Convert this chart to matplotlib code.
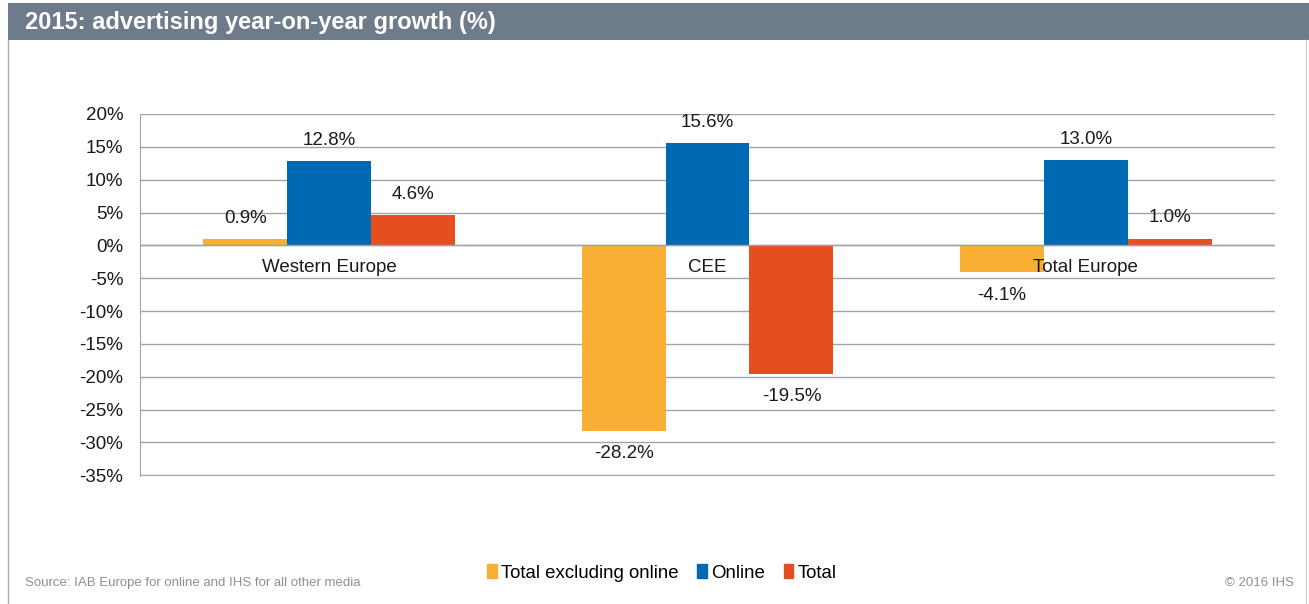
import matplotlib.pyplot as plt
from matplotlib.patches import Rectangle, Patch
import numpy as np

# data
regions = ['Western Europe', 'CEE', 'Total Europe']
excl_online = [0.9, -28.2, -4.1]
online = [12.8, 15.6, 13.0]
total = [4.6, -19.5, 1.0]
series_names = ['Total excluding online', 'Online', 'Total']
colors = ['#F9AE34', '#0069B4', '#E54E1F']
yticks = [20, 15, 10, 5, 0, -5, -10, -15, -20, -25, -30, -35]

W, H = 1309, 604
fig = plt.figure(figsize=(W / 100, H / 100), dpi=100)
fig.patch.set_facecolor('white')

# header band + frame
fig.add_artist(Rectangle((8 / W, 1 - 40 / H), 1 - 8 / W, 37 / H, transform=fig.transFigure,
                         facecolor='#6E7B8B', edgecolor='none'))
fig.add_artist(plt.Line2D([8 / W, 8 / W], [0, 1 - 40 / H], transform=fig.transFigure,
                          color='#A8ADB5', lw=1))
fig.add_artist(plt.Line2D([1306 / W, 1306 / W], [0, 1 - 40 / H], transform=fig.transFigure,
                          color='#D0D3D8', lw=1))
fig.text(25 / W, 1 - 22 / H, '2015: advertising year-on-year growth (%)', color='white',
         fontsize=17, fontweight='bold', va='center', ha='left', family='Liberation Sans')

ax = fig.add_axes([140 / W, 1 - 476 / H, (1275 - 140) / W, (476 - 114) / H])
x = np.arange(len(regions))
w = 0.222
for i, (vals, c) in enumerate(zip([excl_online, online, total], colors)):
    bars = ax.bar(x + (i - 1) * w, vals, w, color=c, zorder=3, label=series_names[i])
    for b, v in zip(bars, vals):
        off = 15 if v >= 0 else -16.5
        ax.annotate(f'{v:.1f}%', (b.get_x() + b.get_width() / 2, v), xytext=(0, off),
                    textcoords='offset points', ha='center', va='center', fontsize=13.5,
                    family='Liberation Sans', color='#1A1A1A')

for xi, r in zip(x, regions):
    ax.text(xi, -3.3, r, ha='center', va='center', fontsize=13.5, family='Liberation Sans',
            color='#1A1A1A', zorder=5)

ax.set_xlim(-0.5, 2.5)
ax.set_ylim(-35.1, 20)
ax.set_yticks(yticks)
ax.set_yticklabels([f'{t}%' for t in yticks], fontsize=13.5, family='Liberation Sans', color='#1A1A1A')
ax.set_xticks([])
ax.grid(axis='y', color='#A0A4AA', lw=1, zorder=0)
ax.axhline(0, color='#A0A4AA', lw=1, zorder=4)
for s in ['top', 'right', 'bottom']:
    ax.spines[s].set_visible(False)
ax.spines['left'].set_color('#A0A4AA')
ax.tick_params(axis='y', length=0, pad=12)
ax.set_facecolor('white')

handles = [Patch(color=c, label=n) for c, n in zip(colors, series_names)]
fig.legend(handles=handles, loc='center', bbox_to_anchor=(662 / W, 1 - 573 / H), ncol=3,
           frameon=False, handlelength=0.5, handleheight=0.75, handletextpad=0.25,
           columnspacing=1.0, prop={'family': 'Liberation Sans', 'size': 13.4})

fig.text(25 / W, 1 - 583 / H, 'Source: IAB Europe for online and IHS for all other media',
         fontsize=9.5, color='#8A9099', va='center', ha='left', family='Liberation Sans')
fig.text(1294 / W, 1 - 583 / H, '© 2016 IHS', fontsize=9.5, color='#8A9099',
         va='center', ha='right', family='Liberation Sans')

fig.savefig('out.png', dpi=100)
